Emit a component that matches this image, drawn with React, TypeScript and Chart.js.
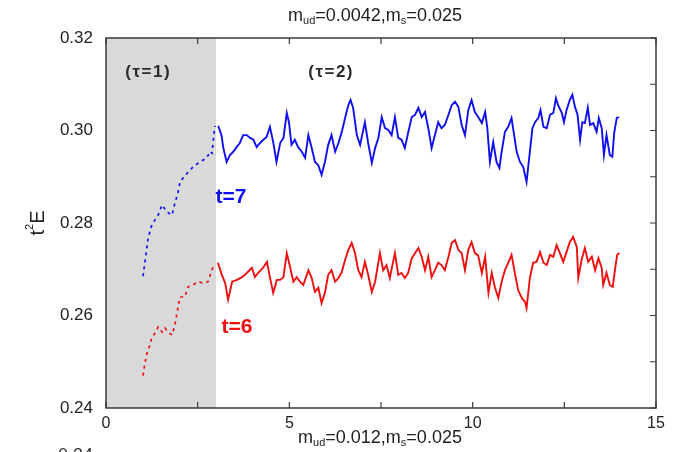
import React, { useEffect, useRef } from "react";
import { Chart, registerables } from "chart.js";
Chart.register(...registerables);

// ---- data ----
const xRange = [0, 15];
const yRange = [0.24, 0.32];
const xTickStep = 2.5;
const yTickStep = 0.01;
const shadedTau1 = [0, 3];

// t=7 (blue), tau=1 part
const blueTau1: [number, number][] = [
  [1.01, 0.2685], [1.06, 0.2715], [1.15, 0.2768], [1.25, 0.2796], [1.42, 0.2817],
  [1.53, 0.2839], [1.66, 0.2824], [1.8, 0.2817], [1.88, 0.2843], [1.96, 0.2865],
  [2.02, 0.2889], [2.1, 0.2897], [2.24, 0.291], [2.37, 0.2921], [2.56, 0.2932],
  [2.75, 0.2941], [2.84, 0.2955], [2.89, 0.2951], [2.97, 0.301],
];
// t=7 (blue), tau=2 part
const blueTau2: [number, number][] = [
  [3.06, 0.301], [3.15, 0.299], [3.2, 0.2962], [3.29, 0.2932], [3.38, 0.2947], [3.47, 0.2954],
  [3.56, 0.2964], [3.65, 0.2973], [3.74, 0.299], [3.84, 0.299], [3.93, 0.2984], [4.02, 0.298],
  [4.11, 0.2964], [4.2, 0.2973], [4.29, 0.298], [4.38, 0.2986], [4.47, 0.3008], [4.56, 0.2975],
  [4.65, 0.2932], [4.75, 0.2973], [4.84, 0.2984], [4.93, 0.3038], [4.99, 0.3018], [5.06, 0.2969],
  [5.15, 0.298], [5.24, 0.2964], [5.34, 0.2954], [5.43, 0.2941], [5.52, 0.299], [5.61, 0.2962],
  [5.7, 0.2932], [5.79, 0.2925], [5.88, 0.2904], [5.97, 0.2932], [6.06, 0.2969], [6.15, 0.299],
  [6.25, 0.2954], [6.34, 0.2973], [6.43, 0.2997], [6.52, 0.3027], [6.61, 0.3055], [6.67, 0.3066],
  [6.74, 0.3049], [6.84, 0.299], [6.93, 0.2969], [7.06, 0.3018], [7.15, 0.2973], [7.25, 0.293],
  [7.34, 0.2962], [7.43, 0.2984], [7.52, 0.3029], [7.61, 0.3005], [7.7, 0.3001], [7.79, 0.299],
  [7.88, 0.3029], [7.97, 0.2984], [8.06, 0.298], [8.15, 0.2962], [8.24, 0.2995], [8.34, 0.3029],
  [8.43, 0.3034], [8.52, 0.3049], [8.61, 0.3029], [8.7, 0.304], [8.79, 0.3005], [8.88, 0.2962],
  [8.97, 0.299], [9.06, 0.3018], [9.15, 0.3005], [9.24, 0.3012], [9.34, 0.3034], [9.43, 0.3055],
  [9.52, 0.3062], [9.61, 0.3051], [9.7, 0.3012], [9.79, 0.299], [9.88, 0.3044], [9.97, 0.3066],
  [10.06, 0.304], [10.15, 0.3029], [10.25, 0.3016], [10.34, 0.304], [10.4, 0.3005], [10.47, 0.2932],
  [10.56, 0.2975], [10.65, 0.2932], [10.73, 0.2919], [10.79, 0.2954], [10.88, 0.2997], [10.97, 0.3008],
  [11.06, 0.3027], [11.11, 0.3001], [11.2, 0.2954], [11.29, 0.2932], [11.38, 0.2921], [11.47, 0.2889],
  [11.56, 0.2954], [11.63, 0.3005], [11.7, 0.3018], [11.79, 0.3027], [11.85, 0.3044], [11.93, 0.3008],
  [12.02, 0.3005], [12.11, 0.3034], [12.2, 0.3038], [12.27, 0.307], [12.33, 0.3055], [12.43, 0.3038],
  [12.49, 0.3018], [12.56, 0.3044], [12.65, 0.3066], [12.72, 0.3077], [12.79, 0.3051], [12.86, 0.3034],
  [12.93, 0.298], [12.99, 0.3018], [13.06, 0.3016], [13.14, 0.3049], [13.2, 0.3012], [13.29, 0.3016],
  [13.38, 0.2997], [13.44, 0.3027], [13.52, 0.3005], [13.58, 0.2947], [13.65, 0.299], [13.74, 0.2947],
  [13.81, 0.2943], [13.86, 0.2995], [13.93, 0.3027], [13.99, 0.3029],
];
// t=6 (red), tau=1 part
const redTau1: [number, number][] = [
  [1.01, 0.247], [1.06, 0.2497], [1.12, 0.2519], [1.2, 0.2536], [1.25, 0.2553], [1.34, 0.2562],
  [1.42, 0.2575], [1.53, 0.2564], [1.61, 0.2573], [1.69, 0.2564], [1.8, 0.2558], [1.88, 0.258],
  [1.96, 0.2616], [2.02, 0.264], [2.15, 0.264], [2.24, 0.2662], [2.37, 0.2666], [2.51, 0.2673],
  [2.65, 0.267], [2.78, 0.2673], [2.92, 0.2705],
];
// t=6 (red), tau=2 part
const redTau2: [number, number][] = [
  [3.05, 0.2714], [3.16, 0.2688], [3.25, 0.267], [3.33, 0.2634], [3.44, 0.2673], [3.57, 0.2677],
  [3.71, 0.2683], [3.84, 0.2692], [3.98, 0.2703], [4.06, 0.2683], [4.15, 0.2692], [4.28, 0.2703],
  [4.39, 0.2716], [4.47, 0.2683], [4.56, 0.2649], [4.66, 0.2677], [4.75, 0.2677], [4.84, 0.2683],
  [4.93, 0.2735], [5.02, 0.2705], [5.11, 0.2673], [5.2, 0.2683], [5.29, 0.2673], [5.38, 0.2666],
  [5.52, 0.2698], [5.61, 0.2681], [5.7, 0.2651], [5.79, 0.266], [5.88, 0.2627], [5.97, 0.2649],
  [6.06, 0.2688], [6.15, 0.2698], [6.25, 0.2673], [6.34, 0.2681], [6.43, 0.2694], [6.52, 0.272],
  [6.61, 0.2742], [6.7, 0.2757], [6.79, 0.2735], [6.88, 0.2698], [6.97, 0.2683], [7.06, 0.2716],
  [7.15, 0.2688], [7.25, 0.2651], [7.34, 0.2673], [7.47, 0.2735], [7.56, 0.2698], [7.65, 0.2709],
  [7.74, 0.2681], [7.88, 0.2735], [7.97, 0.2688], [8.06, 0.2692], [8.15, 0.2681], [8.24, 0.2692],
  [8.34, 0.2724], [8.43, 0.2735], [8.52, 0.2746], [8.61, 0.2727], [8.7, 0.2698], [8.79, 0.2727],
  [8.88, 0.2683], [8.97, 0.2698], [9.06, 0.2714], [9.15, 0.2709], [9.24, 0.2698], [9.34, 0.2727],
  [9.43, 0.2757], [9.52, 0.2763], [9.61, 0.2742], [9.7, 0.2735], [9.79, 0.2698], [9.88, 0.2742],
  [9.97, 0.2759], [10.06, 0.2735], [10.15, 0.273], [10.25, 0.2692], [10.34, 0.2727], [10.43, 0.2649],
  [10.52, 0.2692], [10.61, 0.266], [10.7, 0.2638], [10.79, 0.2673], [10.88, 0.2698], [10.97, 0.2714],
  [11.06, 0.2731], [11.15, 0.2692], [11.24, 0.2655], [11.34, 0.2638], [11.43, 0.2629], [11.47, 0.2616],
  [11.56, 0.2681], [11.65, 0.2714], [11.74, 0.2716], [11.84, 0.2737], [11.93, 0.2714], [12.02, 0.2709],
  [12.11, 0.2731], [12.2, 0.2727], [12.29, 0.2752], [12.38, 0.2735], [12.47, 0.2716], [12.56, 0.2737],
  [12.65, 0.2759], [12.74, 0.277], [12.84, 0.2748], [12.88, 0.2681], [12.97, 0.272], [13.06, 0.2746],
  [13.15, 0.2716], [13.25, 0.2727], [13.34, 0.2698], [13.43, 0.2724], [13.52, 0.2703], [13.56, 0.2666],
  [13.65, 0.2692], [13.74, 0.2666], [13.82, 0.2662], [13.88, 0.2698], [13.94, 0.2731], [14.0, 0.2735],
];

const FONT = '"Liberation Sans", Arial, Helvetica, sans-serif';
const BLUE = "#1010ee";
const RED = "#ee1010";

type Part = { t: string; sub?: boolean };
const titleParts: Part[] = [
  { t: "m" }, { t: "ud", sub: true }, { t: "=0.0042,m" }, { t: "s", sub: true }, { t: "=0.025" },
];
const bottomParts: Part[] = [
  { t: "m" }, { t: "ud", sub: true }, { t: "=0.012,m" }, { t: "s", sub: true }, { t: "=0.025" },
];

function drawRich(ctx: CanvasRenderingContext2D, parts: Part[], cx: number, cy: number, size: number) {
  const big = `${size}px ${FONT}`;
  const small = `${Math.round(size * 0.6)}px ${FONT}`;
  let w = 0;
  for (const p of parts) {
    ctx.font = p.sub ? small : big;
    w += ctx.measureText(p.t).width;
  }
  let x = cx - w / 2;
  ctx.textBaseline = "middle";
  ctx.textAlign = "left";
  for (const p of parts) {
    ctx.font = p.sub ? small : big;
    ctx.fillText(p.t, x, p.sub ? cy + size * 0.3 : cy);
    x += ctx.measureText(p.t).width;
  }
}

const decor = {
  id: "decor",
  beforeDatasetsDraw(chart: any) {
    const { ctx, chartArea: a, scales } = chart;
    const x = scales.x;
    ctx.save();
    const x0 = x.getPixelForValue(shadedTau1[0]);
    const x1 = x.getPixelForValue(shadedTau1[1]);
    ctx.fillStyle = "#d9d9d9";
    ctx.fillRect(x0, a.top, x1 - x0, a.bottom - a.top);
    ctx.restore();
  },
  afterDatasetsDraw(chart: any) {
    const { ctx, chartArea: a, scales } = chart;
    const x = scales.x;
    const y = scales.y;
    ctx.save();
    // frame
    ctx.strokeStyle = "#3a3a3a";
    ctx.lineWidth = 1.5;
    ctx.strokeRect(a.left, a.top, a.right - a.left, a.bottom - a.top);
    // inward ticks
    ctx.lineWidth = 1.2;
    ctx.beginPath();
    for (const t of x.ticks) {
      const px = x.getPixelForValue(t.value);
      ctx.moveTo(px, a.bottom);
      ctx.lineTo(px, a.bottom - 6);
      ctx.moveTo(px, a.top);
      ctx.lineTo(px, a.top + 6);
    }
    for (const t of y.ticks) {
      const py = y.getPixelForValue(t.value);
      ctx.moveTo(a.right, py);
      ctx.lineTo(a.right - 6, py);
    }
    ctx.stroke();

    // annotations
    ctx.fillStyle = "#2a2a2a";
    ctx.textAlign = "center";
    ctx.textBaseline = "middle";
    ctx.font = `bold 17px ${FONT}`;
    (ctx as any).letterSpacing = "1.5px";
    ctx.fillText("(\u03c4=1)", x.getPixelForValue(1.15), y.getPixelForValue(0.3126));
    ctx.fillText("(\u03c4=2)", x.getPixelForValue(6.14), y.getPixelForValue(0.3126));
    (ctx as any).letterSpacing = "0px";
    ctx.font = `bold 21px ${FONT}`;
    ctx.fillStyle = BLUE;
    ctx.fillText("t=7", x.getPixelForValue(3.41), y.getPixelForValue(0.2855));
    ctx.fillStyle = RED;
    ctx.fillText("t=6", x.getPixelForValue(3.57), y.getPixelForValue(0.2575));

    // titles
    ctx.fillStyle = "#222";
    const cx = (a.left + a.right) / 2;
    drawRich(ctx, titleParts, cx - 6, a.top - 22, 18);
    drawRich(ctx, bottomParts, cx - 1, a.bottom + 30, 18);

    // y axis title t^2 E
    ctx.save();
    ctx.translate(38, (a.top + a.bottom) / 2);
    ctx.rotate(-Math.PI / 2);
    ctx.textBaseline = "middle";
    ctx.textAlign = "left";
    const f1 = `20px ${FONT}`;
    const f2 = `11px ${FONT}`;
    ctx.font = f1;
    const wt = ctx.measureText("t").width;
    const wE = ctx.measureText("E").width;
    ctx.font = f2;
    const w2 = ctx.measureText("2").width;
    let sx = -(wt + w2 + wE) / 2;
    ctx.font = f1;
    ctx.fillText("t", sx, 0);
    sx += wt;
    ctx.font = f2;
    ctx.fillText("2", sx, -8);
    sx += w2;
    ctx.font = f1;
    ctx.fillText("E", sx, 0);
    ctx.restore();

    // cut-off label of next panel
    ctx.font = `18px ${FONT}`;
    ctx.textAlign = "right";
    ctx.textBaseline = "top";
    ctx.fillStyle = "#333";
    ctx.fillText("0.34", a.left - 13, 447);
    ctx.restore();
  },
};

function toXY(arr: [number, number][]) {
  return arr.map(([x, y]) => ({ x, y }));
}

export default function App() {
  const ref = useRef<HTMLCanvasElement>(null);
  useEffect(() => {
    document.body.style.margin = "0";
    const mk = (data: [number, number][], color: string, dashed: boolean) => ({
      data: toXY(data),
      borderColor: color,
      backgroundColor: color,
      borderWidth: dashed ? 1.7 : 1.9,
      borderDash: dashed ? [3, 4] : [],
      pointRadius: 0,
      tension: 0,
      fill: false,
    });
    const chart = new Chart(ref.current!, {
      type: "line",
      data: {
        datasets: [
          mk(blueTau1, BLUE, true),
          mk(blueTau2, BLUE, false),
          mk(redTau1, RED, true),
          mk(redTau2, RED, false),
        ] as any,
      },
      plugins: [decor as any],
      options: {
        responsive: false,
        animation: false,
        layout: { padding: { top: 38, right: 19, left: 0, bottom: 0 } },
        plugins: { legend: { display: false }, tooltip: { enabled: false }, title: { display: false } },
        scales: {
          x: {
            type: "linear",
            min: xRange[0],
            max: xRange[1],
            grid: { display: false, drawTicks: false },
            border: { display: false },
            ticks: {
              stepSize: xTickStep,
              autoSkip: false,
              maxRotation: 0,
              padding: 6,
              color: "#222",
              font: { family: FONT, size: 16 },
              callback: (v: any) => (Math.abs(v % 5) < 1e-9 ? String(v) : ""),
            },
            afterFit: (s: any) => {
              s.height = 44;
            },
          },
          y: {
            type: "linear",
            min: yRange[0],
            max: yRange[1],
            grid: { display: false, drawTicks: false },
            border: { display: false },
            ticks: {
              stepSize: yTickStep,
              autoSkip: false,
              padding: 13,
              color: "#222",
              font: { family: FONT, size: 17 },
              callback: (v: any) => (Math.round(v * 100) % 2 === 0 ? Number(v).toFixed(2) : ""),
            },
            afterFit: (s: any) => {
              s.width = 106;
            },
          },
        },
      },
    });
    return () => chart.destroy();
  }, []);
  return (
    <div style={{ width: 675, height: 452 }}>
      <canvas ref={ref} width={675} height={452} style={{ display: "block" }} />
    </div>
  );
}
